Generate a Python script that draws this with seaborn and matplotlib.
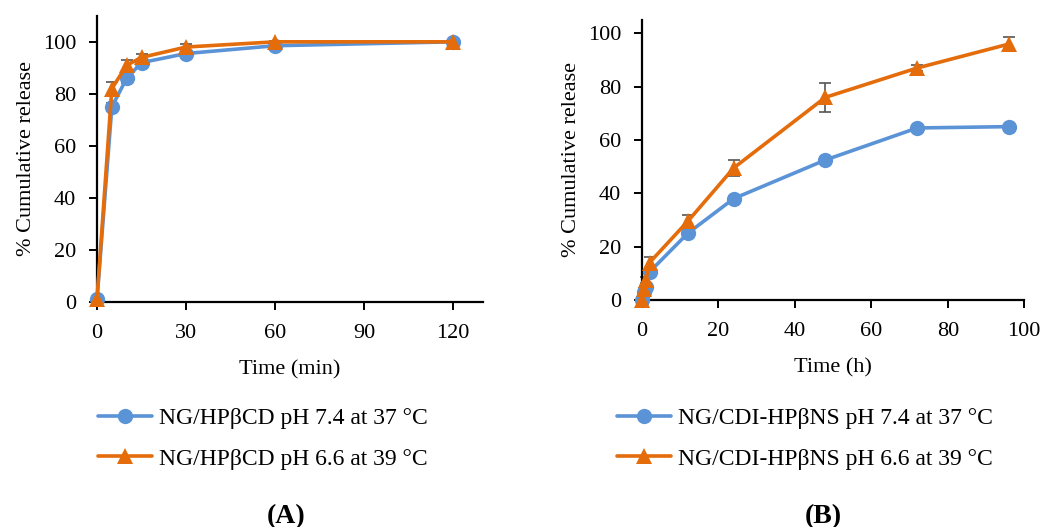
import numpy as np
import pandas as pd
import matplotlib
matplotlib.use("Agg")
import matplotlib.pyplot as plt
import seaborn as sns
from matplotlib.lines import Line2D

# ---- Data ----
time_a = [0, 5, 10, 15, 30, 60, 120]
a_ph74 = [1, 75, 86, 92, 95.5, 98.5, 100]
a_ph74_err = [0.5, 1.5, 2, 1.5, 1, 1, 0.5]
a_ph66 = [1, 82, 91, 94, 98, 100, 100]
a_ph66_err = [0.5, 2.5, 2, 1.5, 1, 0.5, 0.5]

time_b = [0, 0.5, 1, 2, 12, 24, 48, 72, 96]
b_ph74 = [0, 3, 5, 10.5, 25, 38, 52.5, 64.5, 65]
b_ph74_err = [0, 0.5, 0.5, 1, 1, 1, 1, 1, 0.5]
b_ph66 = [0, 4, 7.5, 14, 29.5, 49.5, 76, 87, 96]
b_ph66_err = [0, 0.5, 1, 2, 2.5, 3, 5.5, 1.2, 2.5]

labels_a = ["NG/HPβCD pH 7.4 at 37 °C", "NG/HPβCD pH 6.6 at 39 °C"]
labels_b = ["NG/CDI-HPβNS pH 7.4 at 37 °C", "NG/CDI-HPβNS pH 6.6 at 39 °C"]

BLUE = "#5B93D7"
ORANGE = "#E46C0A"

sns.set_theme(style="ticks")
plt.rcParams["font.family"] = ["Liberation Serif", "DejaVu Serif"]
plt.rcParams["text.color"] = "black"
plt.rcParams["axes.labelcolor"] = "black"

fig = plt.figure(figsize=(10.43, 5.27), dpi=100)
ax_a = fig.add_axes([0.093, 0.427, 0.370, 0.543])
ax_b = fig.add_axes([0.6155, 0.431, 0.3665, 0.531])

MS = 11


def draw(ax, t, y1, e1, y2, e2, labels):
    df = pd.DataFrame({
        "t": list(t) + list(t),
        "y": list(y1) + list(y2),
        "s": [labels[0]] * len(t) + [labels[1]] * len(t),
    })
    ax.errorbar(t, y1, yerr=e1, fmt="none", ecolor="#555555", elinewidth=1.2,
                capsize=4, capthick=1.2, zorder=1)
    ax.errorbar(t, y2, yerr=e2, fmt="none", ecolor="#555555", elinewidth=1.2,
                capsize=4, capthick=1.2, zorder=1)
    sns.lineplot(data=df, x="t", y="y", hue="s", style="s",
                 palette={labels[0]: BLUE, labels[1]: ORANGE},
                 markers={labels[0]: "o", labels[1]: "^"},
                 dashes=False, markersize=MS, markeredgewidth=0,
                 linewidth=2.6, ax=ax, legend=False, zorder=3)
    for s in ["top", "right"]:
        ax.spines[s].set_visible(False)
    for s in ["left", "bottom"]:
        ax.spines[s].set_color("black")
        ax.spines[s].set_linewidth(1.6)
    ax.tick_params(axis="both", direction="out", length=6, width=1.4,
                   colors="black", labelsize=16)
    ax.tick_params(axis="x", pad=10)
    ax.tick_params(axis="y", pad=9)
    ax.set_ylabel("% Cumulative release", fontsize=16, color="black", labelpad=5)
    for l in ax.get_xticklabels() + ax.get_yticklabels():
        l.set_color("black")
    for ln in ax.lines:
        ln.set_clip_on(False)


draw(ax_a, time_a, a_ph74, a_ph74_err, a_ph66, a_ph66_err, labels_a)
ax_a.set_xlim(0, 130)
ax_a.set_ylim(0, 110)
ax_a.set_xticks([0, 30, 60, 90, 120])
ax_a.set_yticks([0, 20, 40, 60, 80, 100])
ax_a.set_xlabel("Time (min)", fontsize=16, color="black", labelpad=12)

draw(ax_b, time_b, b_ph74, b_ph74_err, b_ph66, b_ph66_err, labels_b)
ax_b.set_xlim(0, 100)
ax_b.set_ylim(0, 105)
ax_b.set_xticks([0, 20, 40, 60, 80, 100])
ax_b.set_yticks([0, 20, 40, 60, 80, 100])
ax_b.set_xlabel("Time (h)", fontsize=16, color="black", labelpad=12)


def add_legend(labels, cx):
    h = [Line2D([], [], color=BLUE, marker="o", markersize=MS, markeredgewidth=0, linewidth=2.6),
         Line2D([], [], color=ORANGE, marker="^", markersize=MS, markeredgewidth=0, linewidth=2.6)]
    leg = fig.legend(h, labels, loc="center", bbox_to_anchor=(cx, 0.168), frameon=False,
                     fontsize=17, handlelength=2.3, handletextpad=0.3, labelspacing=0.82)
    for tx in leg.get_texts():
        tx.set_color("black")


add_legend(labels_a, 0.252)
add_legend(labels_b, 0.772)

fig.text(0.274, 0.020, "(A)", ha="center", va="center", fontsize=20, fontweight="bold", color="black")
fig.text(0.789, 0.020, "(B)", ha="center", va="center", fontsize=20, fontweight="bold", color="black")

fig.savefig("out.png", dpi=100)
